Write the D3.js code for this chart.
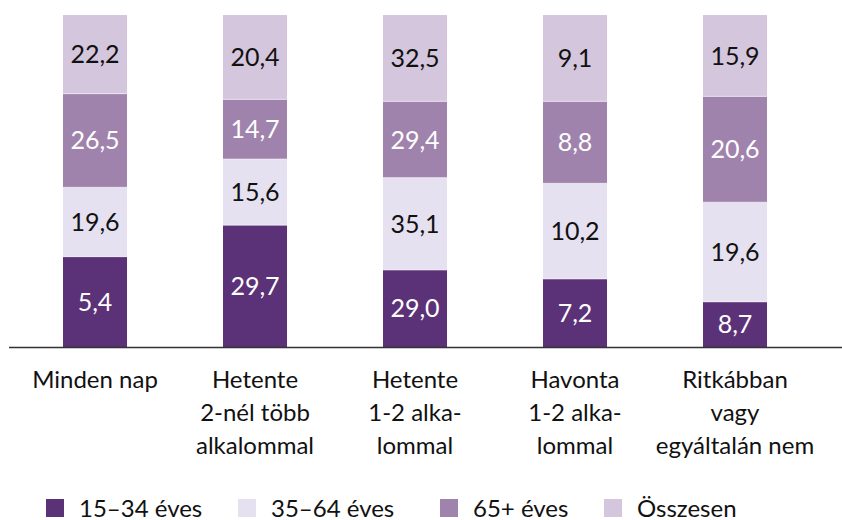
<!DOCTYPE html>
<html>
<head>
<meta charset="utf-8">
<script src="https://cdn.jsdelivr.net/npm/d3@7/dist/d3.min.js"></script>
<style>
  html, body { margin: 0; padding: 0; background: #fff; }
  svg { display: block; }
  text { font-family: Lato, "Open Sans", sans-serif; font-weight: 400; }
</style>
</head>
<body>
<svg id="chart" width="842" height="520"></svg>
<script>
// ---------- data ----------
const categoryLines = [
  ["Minden nap"],
  ["Hetente", "2-nél több", "alkalommal"],
  ["Hetente", "1-2 alka-", "lommal"],
  ["Havonta", "1-2 alka-", "lommal"],
  ["Ritkábban", "vagy", "egyáltalán nem"]
];
const seriesNames = ["15–34 éves", "35–64 éves", "65+ éves", "Összesen"];

// values printed on the segments
const label1534 = [5.4, 29.7, 29.0, 7.2, 8.7];
const label3564 = [19.6, 15.6, 35.1, 10.2, 19.6];
const label65   = [26.5, 14.7, 29.4, 8.8, 20.6];
const labelOssz = [22.2, 20.4, 32.5, 9.1, 15.9];

// segment heights (share of each 100% bar)
const share1534 = [27.2, 36.7, 23.2, 20.5, 13.6];
const share3564 = [20.9, 19.9, 27.8, 28.8, 30.0];
const share65   = [28.2, 18.0, 23.0, 24.7, 31.9];
const shareOssz = [23.7, 25.4, 26.0, 26.0, 24.5];

// ---------- styling ----------
const colors = ["#5b3278", "#e6e1f0", "#a083ad", "#d4c6dc"];
const labelColors = ["#ffffff", "#111111", "#ffffff", "#111111"];

const svg = d3.select("#chart");
const baseY = 347, topY = 15;

const labels = [label1534, label3564, label65, labelOssz];
const shares = [share1534, share3564, share65, shareOssz];

const rows = categoryLines.map((c, i) => {
  const r = { idx: i };
  seriesNames.forEach((s, j) => { r[s] = shares[j][i]; });
  return r;
});

const x = d3.scaleBand()
  .domain(d3.range(categoryLines.length))
  .range([15, 815])
  .paddingInner(0.6)
  .paddingOuter(0.3);

const y = d3.scaleLinear().domain([0, 100]).range([baseY, topY]);

const stacked = d3.stack().keys(seriesNames)(rows);
const fmt = v => d3.format(".1f")(v).replace(".", ",");

const layers = svg.append("g").selectAll("g")
  .data(stacked)
  .join("g")
  .attr("fill", (d, j) => colors[j]);

layers.selectAll("rect")
  .data(d => d)
  .join("rect")
  .attr("x", d => x(d.data.idx))
  .attr("width", x.bandwidth())
  .attr("y", d => y(d[1]))
  .attr("height", d => y(d[0]) - y(d[1]));

// thin light separators between segments
stacked.slice(1).forEach(layer => {
  svg.append("g").selectAll("line")
    .data(layer)
    .join("line")
    .attr("x1", d => x(d.data.idx))
    .attr("x2", d => x(d.data.idx) + x.bandwidth())
    .attr("y1", d => y(d[0]))
    .attr("y2", d => y(d[0]))
    .attr("stroke", "#ffffff")
    .attr("stroke-opacity", 0.55)
    .attr("stroke-width", 1);
});

// value labels
stacked.forEach((layer, j) => {
  svg.append("g").selectAll("text")
    .data(layer)
    .join("text")
    .attr("x", d => x(d.data.idx) + x.bandwidth() / 2)
    .attr("y", d => (y(d[0]) + y(d[1])) / 2)
    .attr("dy", "0.36em")
    .attr("text-anchor", "middle")
    .attr("font-size", 25)
    .attr("fill", labelColors[j])
    .text(d => fmt(labels[j][d.data.idx]));
});

// baseline
svg.append("line")
  .attr("x1", 9).attr("x2", 842)
  .attr("y1", baseY + 0.5).attr("y2", baseY + 0.5)
  .attr("stroke", "#333").attr("stroke-width", 1.3);

// category labels
const catG = svg.append("g");
categoryLines.forEach((lines, i) => {
  const t = catG.append("text")
    .attr("text-anchor", "middle")
    .attr("font-size", 24)
    .attr("fill", "#111");
  lines.forEach((ln, k) => {
    t.append("tspan")
      .attr("x", x(i) + x.bandwidth() / 2)
      .attr("y", 388 + k * 33)
      .text(ln);
  });
});

// legend
const legendX = [46, 238, 440, 604];
const lg = svg.append("g").selectAll("g")
  .data(seriesNames)
  .join("g")
  .attr("transform", (d, j) => `translate(${legendX[j]},499)`);
lg.append("rect")
  .attr("width", 18).attr("height", 18)
  .attr("fill", (d, j) => colors[j]);
lg.append("text")
  .attr("x", 33).attr("y", 17.5)
  .attr("font-size", 24)
  .attr("fill", "#111")
  .text(d => d);
</script>
</body>
</html>
